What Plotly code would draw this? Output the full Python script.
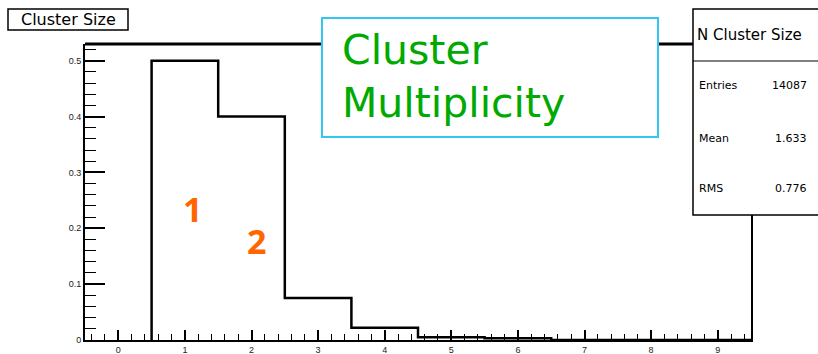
import plotly.graph_objects as go

# Histogram contents: cluster size bins (centres) and normalised counts
bin_centres = [1, 2, 3, 4, 5, 6, 7, 8, 9]
bin_values = [0.50, 0.40, 0.075, 0.022, 0.005, 0.003, 0.0, 0.0, 0.0]

x_tick_vals = [0, 1, 2, 3, 4, 5, 6, 7, 8, 9]
y_tick_vals = [0, 0.1, 0.2, 0.3, 0.4, 0.5]

stat_names = ["Entries", "Mean", "RMS"]
stat_values = ["14087", "1.633", "0.776"]

# Figure geometry (pixels)
FIG_W, FIG_H = 818, 354
L, R, T, B = 85, 751, 44, 340
PW, PH = R - L, B - T


def px(p):
    return (p - L) / PW


def py(q):
    return (B - q) / PH


# Step outline of the histogram, built from the bin edges
step_x = [bin_centres[0] - 0.5]
step_y = [0.0]
for c, v in zip(bin_centres, bin_values):
    step_x.append(c - 0.5)
    step_y.append(v)
step_x.append(bin_centres[-1] + 0.5)
step_y.append(bin_values[-1])

fig = go.Figure()
fig.add_trace(go.Scatter(
    x=step_x, y=step_y, mode="lines",
    line=dict(color="black", width=2.5, shape="hv"),
    showlegend=False, hoverinfo="skip",
))

tick_font = dict(family="Liberation Sans, Arial, sans-serif", size=9, color="#222")

fig.update_layout(
    width=FIG_W, height=FIG_H,
    margin=dict(l=L, r=FIG_W - R, t=T, b=FIG_H - B, pad=0),
    paper_bgcolor="white", plot_bgcolor="white",
    xaxis=dict(
        range=[-0.5, 9.5], tickvals=x_tick_vals, ticks="inside", ticklen=10,
        tickwidth=1.5, tickcolor="black", showgrid=False, zeroline=False,
        showline=True, linecolor="black", linewidth=2, mirror=False,
        tickfont=tick_font, automargin=False,
        minor=dict(dtick=0.2, ticks="inside", ticklen=6, tickwidth=1.2,
                   tickcolor="black", showgrid=False),
    ),
    yaxis=dict(
        range=[0, 0.530], tickvals=y_tick_vals, ticks="inside", ticklen=20,
        tickwidth=1.5, tickcolor="black", showgrid=False, zeroline=False,
        showline=True, linecolor="black", linewidth=2, mirror=True,
        tickfont=tick_font, automargin=False,
        minor=dict(dtick=0.02, ticks="inside", ticklen=11, tickwidth=1.2,
                   tickcolor="black", showgrid=False),
    ),
)

shapes = [
    # heavy top frame line
    dict(type="line", xref="paper", yref="paper", x0=0, x1=1.2, y0=1, y1=1,
         line=dict(color="black", width=3), layer="above"),
    # title box
    dict(type="rect", xref="paper", yref="paper",
         x0=px(8), x1=px(128), y0=py(9), y1=py(30),
         line=dict(color="black", width=1.5), fillcolor="white", layer="above"),
    # highlighted caption box
    dict(type="rect", xref="paper", yref="paper",
         x0=px(322), x1=px(658), y0=py(18), y1=py(137),
         line=dict(color="#33c6f2", width=2), fillcolor="white", layer="above"),
    # statistics box
    dict(type="rect", xref="paper", yref="paper",
         x0=px(693), x1=px(830), y0=py(9), y1=py(215),
         line=dict(color="black", width=1.5), fillcolor="white", layer="above"),
    dict(type="line", xref="paper", yref="paper",
         x0=px(693), x1=px(830), y0=py(61), y1=py(61),
         line=dict(color="black", width=1.2), layer="above"),
]

annotations = [
    dict(text="Cluster Size", xref="paper", yref="paper",
         x=px(68), y=py(20), xanchor="center", yanchor="middle", showarrow=False,
         font=dict(family="DejaVu Sans, sans-serif", size=16, color="black")),
    dict(text="Cluster<br>Multiplicity", xref="paper", yref="paper",
         x=px(340), y=py(76), xanchor="left", yanchor="middle", align="left",
         showarrow=False,
         font=dict(family="DejaVu Sans, sans-serif", size=41, color="#00aa00")),
    dict(text="<b>1</b>", xref="paper", yref="paper",
         x=px(192), y=py(209), xanchor="center", yanchor="middle", showarrow=False,
         font=dict(family="Open Sans, sans-serif", size=34, color="#ff6600")),
    dict(text="<b>2</b>", xref="paper", yref="paper",
         x=px(256), y=py(241), xanchor="center", yanchor="middle", showarrow=False,
         font=dict(family="Open Sans, sans-serif", size=34, color="#ff6600")),
    dict(text="N Cluster Size", xref="paper", yref="paper",
         x=px(695), y=py(35), xanchor="left", yanchor="middle", showarrow=False,
         font=dict(family="DejaVu Sans, sans-serif", size=15, color="black")),
]

stat_rows_y = [85, 138, 188]
for name, val, yy in zip(stat_names, stat_values, stat_rows_y):
    annotations.append(dict(
        text=name, xref="paper", yref="paper", x=px(697), y=py(yy),
        xanchor="left", yanchor="middle", showarrow=False,
        font=dict(family="DejaVu Sans, sans-serif", size=11, color="black")))
    annotations.append(dict(
        text=val, xref="paper", yref="paper", x=px(809), y=py(yy),
        xanchor="right", yanchor="middle", showarrow=False,
        font=dict(family="DejaVu Sans, sans-serif", size=11, color="black")))

fig.update_layout(shapes=shapes, annotations=annotations)

fig.write_html("out.html")
